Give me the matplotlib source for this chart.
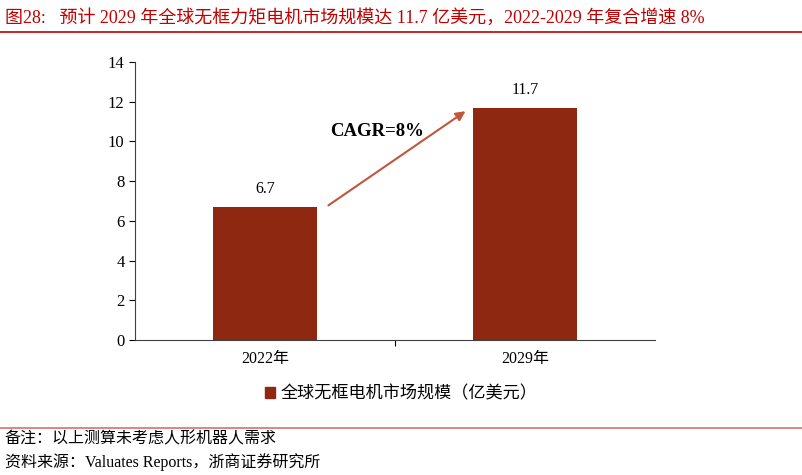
import matplotlib.pyplot as plt
from matplotlib.patches import Patch
from matplotlib.lines import Line2D

years = ['2022年', '2029年']
market_size = [6.7, 11.7]
value_labels = ['6.7', '11.7']
series_name = '全球无框电机市场规模（亿美元）'
title_text = '图28:   预计 2029 年全球无框力矩电机市场规模达 11.7 亿美元，2022-2029 年复合增速 8%'
note_lines = ['备注：以上测算未考虑人形机器人需求',
              '资料来源：Valuates Reports，浙商证券研究所']

serif = ['Liberation Serif', 'Noto Sans CJK SC']
sans = ['Noto Sans CJK SC', 'DejaVu Sans']
bar_color = '#8E2811'

fig = plt.figure(figsize=(8.02, 4.75), dpi=100)
ax = fig.add_axes([0.1683, 0.2842, 0.6484, 0.5853])

x = range(len(years))
ax.bar(x, market_size, width=0.4, color=bar_color)
for i, v in enumerate(market_size):
    ax.text(i, v + 0.5, value_labels[i], ha='center', va='bottom',
            fontsize=11.5, family=serif)

ax.set_xlim(-0.5, 1.5)
ax.set_ylim(0, 14)
ax.set_yticks(range(0, 15, 2))
ax.set_xticks([0.5])
ax.set_xticklabels([''])
for i, y in enumerate(years):
    ax.text(i, -0.55, y, ha='center', va='top', fontsize=11.5, family=serif)
ax.tick_params(axis='y', labelsize=12, length=4, width=0.8)
ax.tick_params(axis='x', length=4, width=0.8)
for lab in ax.get_yticklabels():
    lab.set_family(serif)
ax.spines['top'].set_visible(False)
ax.spines['right'].set_visible(False)
ax.spines['left'].set_color('#404040')
ax.spines['bottom'].set_color('#404040')

# growth arrow
ax.annotate('', xy=(0.78, 11.6), xytext=(0.235, 6.7),
            arrowprops=dict(arrowstyle='-|>', color='#C0563A', lw=1.5,
                            mutation_scale=14))
ax.text(0.43, 10.5, 'CAGR=8%', ha='center', va='center', fontsize=13.5,
        fontweight='bold', family=serif)

handles = [Patch(color=bar_color)]
fig.legend(handles, [series_name], loc='center', bbox_to_anchor=(0.5, 0.172),
           frameon=False, prop={'family': sans, 'size': 12.3},
           handlelength=0.6, handleheight=0.6, handletextpad=0.3)

# title and footer
fig.text(0.006, 0.962, title_text, color='#C00000', fontsize=13,
         family=serif, va='center')
fig.add_artist(Line2D([0.0, 1.0], [0.933, 0.933], color='#C00000', lw=1.2))
fig.add_artist(Line2D([0.0, 1.0], [0.099, 0.099], color='#D87070', lw=1.2))
fig.text(0.006, 0.074, note_lines[0], fontsize=11.5, family=serif, va='center')
fig.text(0.006, 0.028, note_lines[1], fontsize=11.5, family=serif, va='center')

fig.savefig('out.png', dpi=100)
